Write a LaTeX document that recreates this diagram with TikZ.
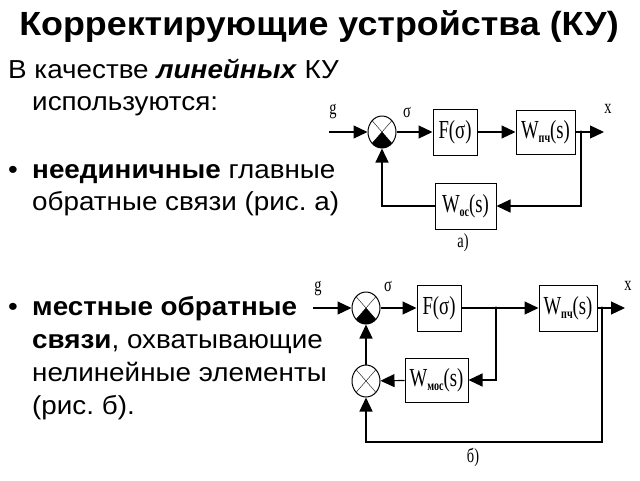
\documentclass[tikz,border=0pt]{standalone}
\usepackage{fontspec}
\setmainfont[FakeStretch=1.07]{Liberation Sans}
\newfontfamily\dia[FakeStretch=0.72]{Liberation Serif}
\usetikzlibrary{arrows.meta,shapes.geometric}
\frenchspacing
\newcommand{\mysub}[1]{\lower4.5pt\hbox{\bfseries\fontsize{14}{14}\selectfont #1}}
\tikzset{
 ln/.style={line width=1.1pt},
 arr/.style={ln, -{Triangle[length=14pt,width=13pt]}},
 blk/.style={draw, line width=1pt, inner sep=0pt, font=\dia\fontsize{26}{26}\selectfont},
 sumnode/.style={ellipse, draw, line width=1pt, minimum width=28pt, minimum height=32pt, inner sep=0pt},
 lbl/.style={font=\dia\fontsize{20}{20}\selectfont, inner sep=0pt},
 body/.style={anchor=base west, inner sep=0pt, font=\fontsize{26}{26}\selectfont},
 ttl/.style={anchor=base, inner sep=0pt, font=\bfseries\fontsize{33.5}{33.5}\selectfont},
}
\begin{document}
\begin{tikzpicture}[x=1pt,y=-1pt]
\useasboundingbox (0,0) rectangle (640,480);
% text
\node[ttl] (t) at (319,35) {Корректирующие устройства (КУ)};
\node[body] (l1) at (8,78) {В качестве \textbf{\textit{линейных}} КУ};
\node[body] (l2) at (32,110) {используются:};
\node[body] (b1) at (8,178) {•};
\node[body] (l3) at (32,178) {\textbf{неединичные} главные};
\node[body] (l4) at (32,210) {обратные связи (рис. а)};
\node[body] (b2) at (8,315) {•};
\node[body] (l5) at (32,315) {\textbf{местные обратные}};
\node[body] (l6) at (32,348) {\textbf{связи}, охватывающие};
\node[body] (l7) at (32,381) {нелинейные элементы};
\node[body] (l8) at (32,414) {(рис. б).};

% ---------- diagram a ----------
\coordinate (ga) at (329,132);
\node[sumnode] (s1) at (382,132) {};
\node[blk, minimum width=44pt, minimum height=46pt] (F1) at (455,132) {F(σ)};
\node[blk, minimum width=59pt, minimum height=44pt] (W1) at (545.5,132) {W\mysub{пч}(s)};
\coordinate (o1) at (581,132);
\coordinate (x1) at (604,132);
\node[blk, minimum width=61pt, minimum height=46pt] (Woc) at (465.5,206) {W\mysub{ос}(s)};
\draw (s1.center) ++(45:14pt and 16pt) -- ++(225:28pt and 32pt);
\draw (s1.center) ++(135:14pt and 16pt) -- ++(315:28pt and 32pt);
\fill (s1.center) -- ++(225:14pt and 16pt) arc[start angle=225, end angle=315, x radius=14pt, y radius=16pt] -- cycle;
\draw[arr] (ga) -- (s1);
\draw[arr] (s1) -- (F1);
\draw[arr] (F1) -- (W1);
\draw[arr] (W1) -- (x1);
\fill (o1) circle (1.6pt);
\draw[arr] (o1) |- (Woc.east);
\draw[arr] (Woc.west) -| (s1.south);
\node[lbl] (ag) at (333,112) {g};
\node[lbl] (as) at (407,112) {σ};
\node[lbl] (ax) at (608,109) {x};
\node[lbl] (acap) at (463,243) {а)};

% ---------- diagram b ----------
\coordinate (gb) at (313,308);
\node[sumnode] (s2) at (366,308) {};
\node[blk, minimum width=44pt, minimum height=46pt] (F2) at (439,308) {F(σ)};
\coordinate (b1p) at (496,308);
\node[blk, minimum width=58pt, minimum height=46pt] (W2) at (568,308) {W\mysub{пч}(s)};
\coordinate (o2) at (602,308);
\coordinate (x2) at (625,308);
\node[blk, minimum width=63pt, minimum height=44pt] (Wm) at (436.5,380) {W\mysub{мос}(s)};
\node[sumnode] (s3) at (366,381) {};
\coordinate (bot) at (366,442);
\draw (s2.center) ++(45:14pt and 16pt) -- ++(225:28pt and 32pt);
\draw (s2.center) ++(135:14pt and 16pt) -- ++(315:28pt and 32pt);
\fill (s2.center) -- ++(225:14pt and 16pt) arc[start angle=225, end angle=315, x radius=14pt, y radius=16pt] -- cycle;
\draw (s3.center) ++(45:14pt and 16pt) -- ++(225:28pt and 32pt);
\draw (s3.center) ++(135:14pt and 16pt) -- ++(315:28pt and 32pt);
\draw[arr] (gb) -- (s2);
\draw[arr] (s2) -- (F2);
\draw[arr] (F2) -- (W2);
\fill (b1p) circle (1.6pt);
\draw[arr] (W2) -- (x2);
\fill (o2) circle (1.6pt);
\draw[arr] (b1p) |- (Wm.east);
\draw[arr] (Wm) -- (s3);
\draw[arr] (s3) -- (s2);
\draw[arr] (o2) |- (bot) -- (s3.south);
\node[lbl] (bg) at (318,289) {g};
\node[lbl] (bs) at (388,286) {σ};
\node[lbl] (bx) at (628,286) {x};
\node[lbl] (bcap) at (473,457) {б)};
\end{tikzpicture}
\end{document}
